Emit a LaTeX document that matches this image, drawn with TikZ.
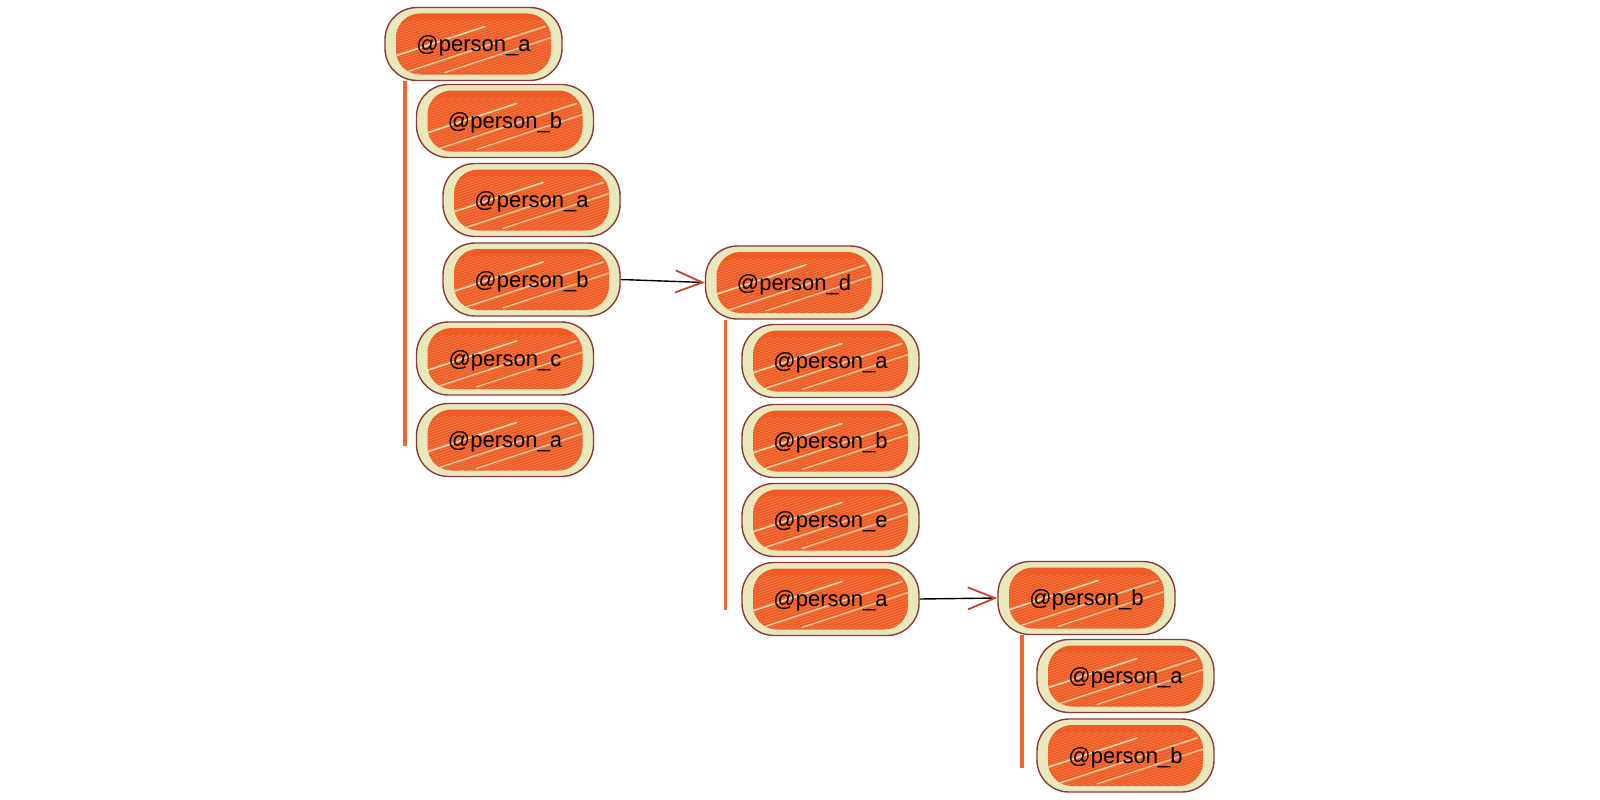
\documentclass[tikz,border=0pt]{standalone}
\usepackage{fontspec}
\setmainfont{Liberation Sans}
\usetikzlibrary{arrows.meta}
\definecolor{cream}{HTML}{E9E8BC}
\definecolor{pill}{HTML}{F05A24}
\definecolor{rim}{HTML}{8A3B36}
\definecolor{trunkc}{HTML}{F26531}
\definecolor{tipc}{HTML}{C2452B}
\tikzset{
  person/.style={draw=rim, line width=1.4pt, fill=cream, rounded corners=32pt,
    minimum width=177pt, minimum height=73pt, inner sep=0pt,
    text height=16pt, text depth=0.5pt,
    font=\fontsize{22}{26}\selectfont, text=black,
    path picture={
      \fill[pill, rounded corners=24pt]
        ([shift={(11pt,6pt)}]path picture bounding box.south west) rectangle
        ([shift={(-11pt,-6pt)}]path picture bounding box.north east);
      \begin{scope}
        \clip[rounded corners=24pt]
          ([shift={(11pt,6pt)}]path picture bounding box.south west) rectangle
          ([shift={(-11pt,-6pt)}]path picture bounding box.north east);
        \foreach \k in {-150,-142,...,180}
          \draw[cream, opacity=.3, line width=.6pt, rounded corners=0pt]
            ([xshift=\k pt]path picture bounding box.south west) -- ++(180pt,60pt);
        \foreach \k/\w in {-40/1.8, 20/1.3, 60/1.1}
          \draw[cream, opacity=.85, line width=\w pt, line cap=round, rounded corners=0pt]
            ([shift={(\k pt,8pt)}]path picture bounding box.south west) -- ++(140pt,46pt);
      \end{scope}
    }},
  trunk/.style={draw=trunkc, line width=3.6pt},
  link/.style={draw=black, line width=1.4pt,
    -{Straight Barb[length=27pt, width=22pt, color=tipc, line width=1.8pt]}}
}
\begin{document}
\begin{tikzpicture}[x=1pt, y=-1pt]
\useasboundingbox (0,0) rectangle (1600,800);
% trunks
\coordinate (t1) at (405,446);
\coordinate (t2) at (725.5,610);
\coordinate (t3) at (1022,768);
% tree 1
\node[person] (a1) at (473.5,44) {@person\_a};
\node[person] (a2) at (505,121) {@person\_b};
\node[person] (a3) at (531.5,200) {@person\_a};
\node[person] (a4) at (531.5,279.5) {@person\_b};
\node[person] (a5) at (505,358.5) {@person\_c};
\node[person] (a6) at (505,440) {@person\_a};
% tree 2
\node[person] (b0) at (794,282.5) {@person\_d};
\node[person] (b1) at (830.5,361) {@person\_a};
\node[person] (b2) at (830.5,441) {@person\_b};
\node[person] (b3) at (830.5,520) {@person\_e};
\node[person] (b4) at (830.5,599) {@person\_a};
% tree 3
\node[person] (c0) at (1086.5,598) {@person\_b};
\node[person] (c1) at (1125.5,676) {@person\_a};
\node[person] (c2) at (1125.5,755.5) {@person\_b};
% connectors
\draw[trunk] (a1.south -| t1) -- (t1);
\draw[trunk] (b0.south -| t2) -- (t2);
\draw[trunk] (c0.south -| t3) -- (t3);
\draw[link] (a4.east) -- (b0.west);
\draw[link] (b4.east) -- (c0.west);
\end{tikzpicture}
\end{document}
